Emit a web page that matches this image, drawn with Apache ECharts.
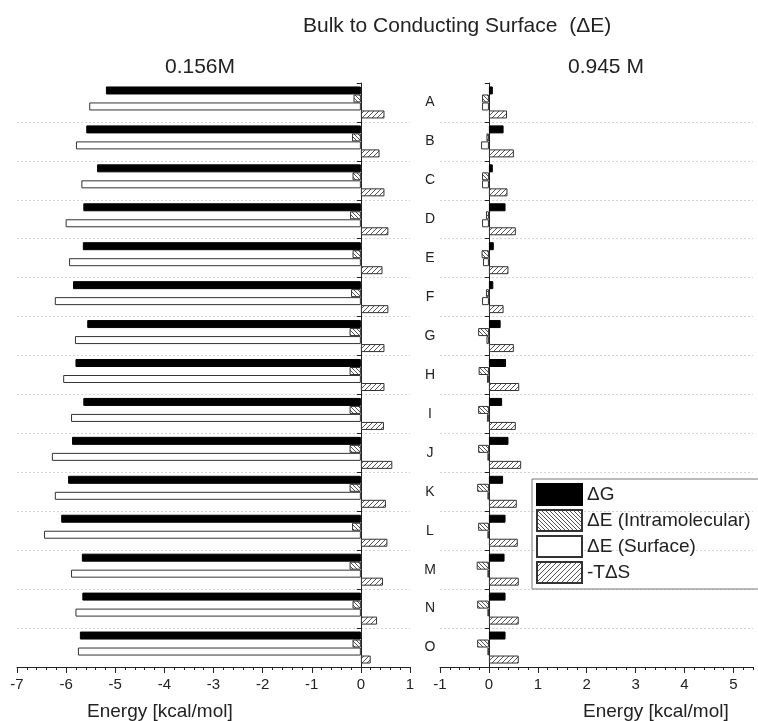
<!DOCTYPE html>
<html>
<head>
<meta charset="utf-8">
<script src="https://cdn.jsdelivr.net/npm/echarts@6/dist/echarts.min.js"></script>
<style>
  html, body { margin: 0; padding: 0; background: #fff; }
  #chart { width: 758px; height: 721px; }
</style>
</head>
<body>
<div id="chart"></div>
<script>
//类别
var cats = ['A','B','C','D','E','F','G','H','I','J','K','L','M','N','O'];

//0.156M
var dG156  = [-5.19,-5.59,-5.37,-5.65,-5.66,-5.86,-5.57,-5.81,-5.65,-5.88,-5.96,-6.10,-5.68,-5.67,-5.72];
var dEi156 = [-0.15,-0.18,-0.17,-0.22,-0.17,-0.20,-0.23,-0.23,-0.23,-0.23,-0.23,-0.18,-0.23,-0.17,-0.17];
var dEs156 = [-5.53,-5.80,-5.69,-6.01,-5.94,-6.23,-5.82,-6.06,-5.90,-6.29,-6.23,-6.45,-5.90,-5.81,-5.76];
var tS156  = [0.48,0.38,0.48,0.56,0.44,0.56,0.48,0.48,0.47,0.64,0.51,0.54,0.45,0.33,0.20];

//0.945 M
var dG945  = [0.08,0.30,0.08,0.34,0.10,0.09,0.24,0.35,0.27,0.40,0.29,0.34,0.32,0.34,0.34];
var dEi945 = [-0.14,-0.05,-0.14,-0.06,-0.15,-0.06,-0.22,-0.21,-0.22,-0.22,-0.24,-0.22,-0.25,-0.24,-0.24];
var dEs945 = [-0.14,-0.16,-0.14,-0.14,-0.12,-0.14,-0.05,-0.04,-0.04,-0.03,-0.03,-0.03,-0.03,-0.03,-0.03];
var tS945  = [0.37,0.51,0.38,0.55,0.40,0.30,0.51,0.62,0.55,0.66,0.57,0.59,0.61,0.61,0.61];

//刻度
var ticks156 = [-7,-6,-5,-4,-3,-2,-1,0,1];
var ticks945 = [-1,0,1,2,3,4,5];

var names = ['\u0394G', '\u0394E (Intramolecular)', '\u0394E (Surface)', '-T\u0394S'];

var font = 'Arial, "Liberation Sans", sans-serif';

//斜线填充
function makeHatch(size, dir, color){
    var c = document.createElement('canvas');
    c.width = size; c.height = size;
    var ctx = c.getContext('2d');
    ctx.fillStyle = '#fff';
    ctx.fillRect(0, 0, size, size);
    ctx.strokeStyle = color;
    ctx.lineWidth = 1;
    ctx.beginPath();
    for (var k = -1; k <= 1; k++) {
        if (dir > 0) {
            ctx.moveTo(k*size, size); ctx.lineTo(k*size + size, 0);
        } else {
            ctx.moveTo(k*size, 0); ctx.lineTo(k*size + size, size);
        }
    }
    ctx.stroke();
    return c;
}

var styles = [
    {color: '#000', borderColor: '#000', borderWidth: 1},
    {color: {image: makeHatch(4, -1, '#555'), repeat: 'repeat'}, borderColor: '#333', borderWidth: 1},
    {color: '#fff', borderColor: '#333', borderWidth: 1},
    {color: {image: makeHatch(5, 1, '#555'), repeat: 'repeat'}, borderColor: '#333', borderWidth: 1}
];

var myChart = echarts.init(document.getElementById('chart'));

function xAxes(gridIndex, min, max, ticks){
    return [
        {
            gridIndex: gridIndex, type: 'value', min: min, max: max, position: 'bottom',
            axisLine: {show: true, onZero: false, lineStyle: {color: '#222', width: 1}},
            axisTick: {show: true, length: 6, customValues: ticks, lineStyle: {color: '#222'}},
            axisLabel: {customValues: ticks, margin: 10, fontSize: 15, color: '#222', fontFamily: font},
            splitLine: {show: false}
        },
        {
            gridIndex: gridIndex, type: 'value', min: min, max: max, interval: 0.2, position: 'bottom',
            axisLine: {show: false, onZero: false},
            axisTick: {show: true, length: 3, lineStyle: {color: '#222'}},
            axisLabel: {show: false},
            splitLine: {show: false}
        }
    ];
}

function yAxes(gridIndex, showLabel){
    return [
        {
            gridIndex: gridIndex, type: 'category', data: cats, inverse: true,
            axisLine: {show: true, onZero: true, lineStyle: {color: '#222'}},
            axisTick: {show: true, length: 4, lineStyle: {color: '#222'}},
            axisLabel: {show: showLabel, align: 'center', margin: 10, fontSize: 14, color: '#222', fontFamily: font},
            splitLine: {show: true, showMinLine: false, showMaxLine: false,
                lineStyle: {color: '#d4d4d4', type: [2, 2], width: 1}}
        },
        {
            gridIndex: gridIndex, type: 'category', data: cats, inverse: true,
            axisLine: {show: false, onZero: true},
            axisTick: {show: true, inside: true, length: 4, lineStyle: {color: '#222'}},
            axisLabel: {show: false},
            splitLine: {show: false}
        }
    ];
}

function barSeries(xIdx, yIdx, arrs){
    return arrs.map(function(d, i){
        return {
            name: names[i], type: 'bar',
            xAxisIndex: xIdx, yAxisIndex: yIdx,
            data: d, barWidth: 8, barGap: '0%',
            itemStyle: styles[i]
        };
    });
}

var option = {
    animation: false,
    textStyle: {fontFamily: font},
    grid: [
        {left: 17, top: 83, width: 393, height: 584},
        {left: 440, top: 83, width: 313, height: 584}
    ],
    xAxis: xAxes(0, -7, 1, ticks156).concat(xAxes(1, -1, 5.4, ticks945)),
    yAxis: yAxes(0, false).concat(yAxes(1, true)),
    legend: {
        orient: 'vertical', left: 532, top: 479,
        data: names, icon: 'rect',
        itemWidth: 45, itemHeight: 21, itemGap: 3,
        padding: [4, 8, 5, 4],
        borderColor: '#777', borderWidth: 1,
        textStyle: {fontSize: 19, lineHeight: 21, color: '#222', fontFamily: font}
    },
    graphic: [
        {type: 'text', left: 303, top: 16, style: {text: 'Bulk to Conducting Surface  (\u0394E)', fontSize: 21, fill: '#222', fontFamily: font}},
        {type: 'text', left: 165, top: 57, style: {text: '0.156M', fontSize: 21, fill: '#222', fontFamily: font}},
        {type: 'text', left: 568, top: 57, style: {text: '0.945 M', fontSize: 21, fill: '#222', fontFamily: font}},
        {type: 'text', left: 87, top: 702, style: {text: 'Energy [kcal/mol]', fontSize: 19, fill: '#222', fontFamily: font}},
        {type: 'text', left: 583, top: 702, style: {text: 'Energy [kcal/mol]', fontSize: 19, fill: '#222', fontFamily: font}}
    ],
    series: barSeries(0, 0, [dG156, dEi156, dEs156, tS156])
        .concat(barSeries(2, 2, [dG945, dEi945, dEs945, tS945]))
};

myChart.setOption(option);
</script>
</body>
</html>
